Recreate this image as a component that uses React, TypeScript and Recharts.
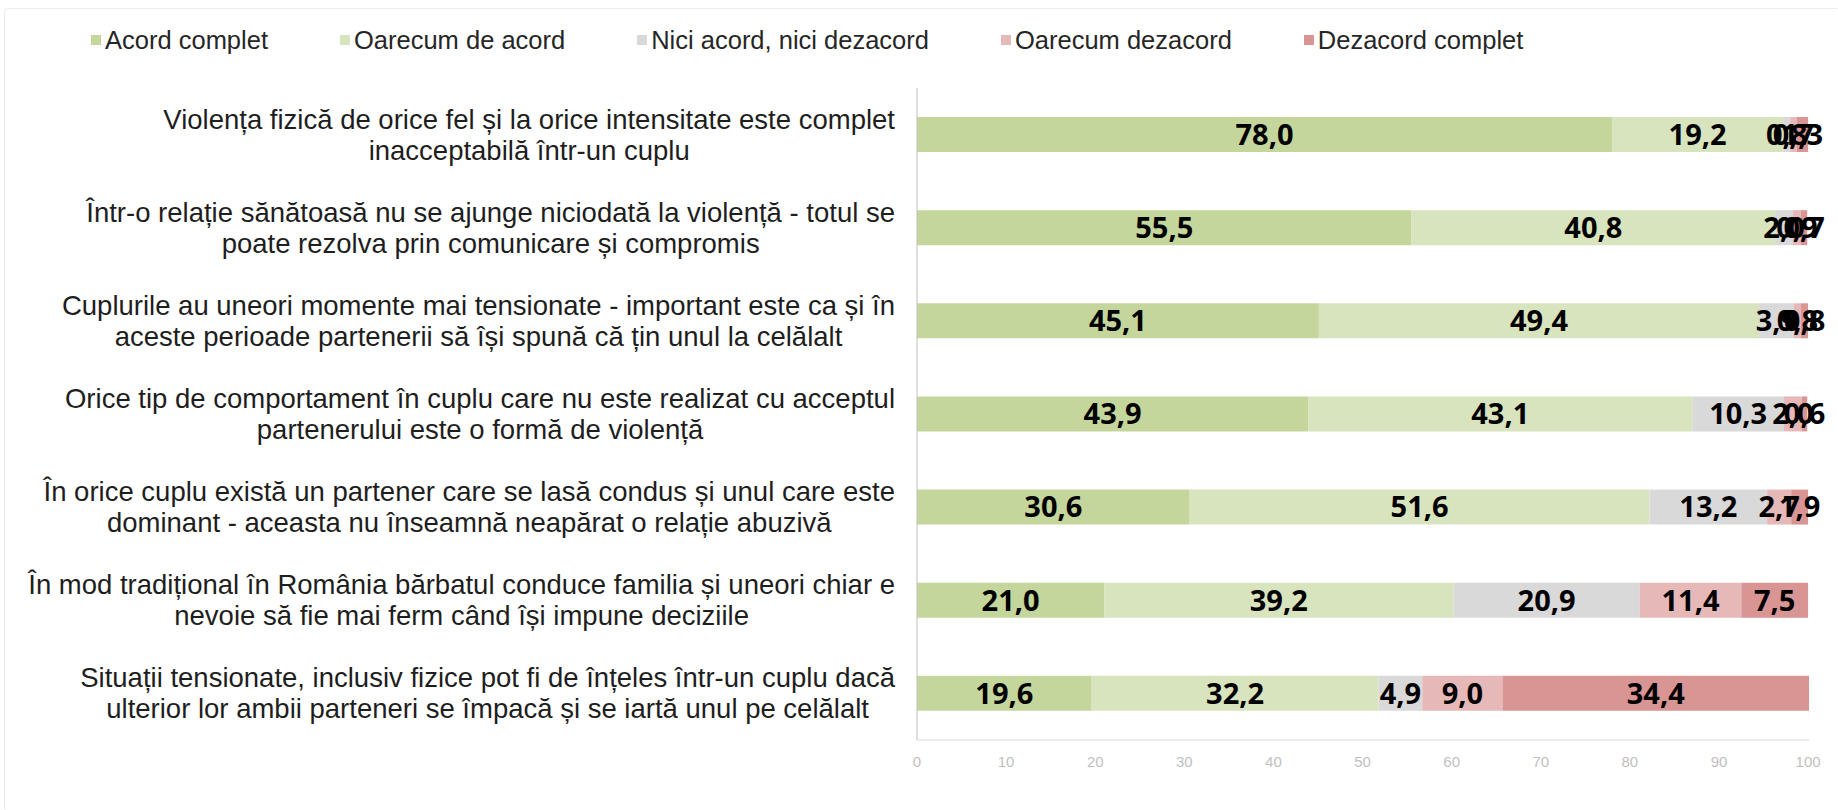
import React from "react";
import { Bar, BarChart, LabelList, XAxis, YAxis } from "recharts";

// statements, top to bottom (line breaks as in the original)
const statements = [
  "Violența fizică de orice fel și la orice intensitate este complet\ninacceptabilă într-un cuplu",
  "Într-o relație sănătoasă nu se ajunge niciodată la violență - totul se\npoate rezolva prin comunicare și compromis",
  "Cuplurile au uneori momente mai tensionate - important este ca și în\naceste perioade partenerii să își spună că țin unul la celălalt",
  "Orice tip de comportament în cuplu care nu este realizat cu acceptul\npartenerului este o formă de violență",
  "În orice cuplu există un partener care se lasă condus și unul care este\ndominant - aceasta nu înseamnă neapărat o relație abuzivă",
  "În mod tradițional în România bărbatul conduce familia și uneori chiar e\nnevoie să fie mai ferm când își impune deciziile",
  "Situații tensionate, inclusiv fizice pot fi de înțeles într-un cuplu dacă\nulterior lor ambii parteneri se împacă și se iartă unul pe celălalt",
];

const acordComplet = [78.0, 55.5, 45.1, 43.9, 30.6, 21.0, 19.6];
const oarecumAcord = [19.2, 40.8, 49.4, 43.1, 51.6, 39.2, 32.2];
const neutru = [0.8, 2.0, 3.9, 10.3, 13.2, 20.9, 4.9];
const oarecumDezacord = [0.7, 0.9, 0.8, 2.0, 2.7, 11.4, 9.0];
const dezacordComplet = [1.3, 0.7, 0.8, 0.6, 1.9, 7.5, 34.4];

const xTicks = [0, 10, 20, 30, 40, 50, 60, 70, 80, 90, 100];

const series = [
  { key: "acord", name: "Acord complet", color: "#c4d69c", values: acordComplet },
  { key: "oarecumAcord", name: "Oarecum de acord", color: "#d8e4bd", values: oarecumAcord },
  { key: "neutru", name: "Nici acord, nici dezacord", color: "#d9d9d9", values: neutru },
  { key: "oarecumDezacord", name: "Oarecum dezacord", color: "#e6b8b7", values: oarecumDezacord },
  { key: "dezacord", name: "Dezacord complet", color: "#d99594", values: dezacordComplet },
];

const data = statements.map((name, i) => {
  const row: Record<string, string | number> = { name };
  series.forEach((s) => (row[s.key] = s.values[i]));
  return row;
});

const FONT = "'Liberation Sans', Arial, sans-serif";
const LABEL_SIZE = 27.5;
const LINE_H = 31;

let ctx: CanvasRenderingContext2D | null = null;
function textWidth(s: string, font: string) {
  if (!ctx) ctx = document.createElement("canvas").getContext("2d");
  if (!ctx) return s.length * 12;
  ctx.font = font;
  return ctx.measureText(s).width;
}

// lines centred on each other, block right-aligned against the axis
function StatementTick({ x, y, payload }: any) {
  const lines = String(payload.value).split("\n");
  const w = Math.max(...lines.map((l) => textWidth(l, `${LABEL_SIZE}px ${FONT}`)));
  const cx = x - w / 2;
  return (
    <text textAnchor="middle" fontFamily={FONT} fontSize={LABEL_SIZE} fill="#1e1e1e">
      {lines.map((l, i) => (
        <tspan key={i} x={cx} y={y + (i - (lines.length - 1) / 2) * LINE_H} dominantBaseline="central">
          {l}
        </tspan>
      ))}
    </text>
  );
}

const fmt = (v: any) => Number(v).toFixed(1).replace(".", ",");

export default function App() {
  return (
    <div
      style={{
        position: "absolute",
        left: 0,
        top: 0,
        width: 1838,
        height: 810,
        background: "#fff",
        overflow: "hidden",
      }}
    >
      <div
        style={{
          position: "absolute",
          left: 4,
          top: 8,
          right: -2,
          bottom: -2,
          border: "1px solid #ececec",
          borderRadius: 4,
        }}
      />
      <div
        style={{
          position: "absolute",
          left: 91,
          top: 25,
          display: "flex",
          gap: 72,
          fontFamily: FONT,
          fontSize: 25.5,
          color: "#262626",
          lineHeight: "30px",
        }}
      >
        {series.map((s) => (
          <div key={s.key} style={{ display: "flex", alignItems: "center" }}>
            <span style={{ width: 10, height: 10, background: s.color, marginRight: 4 }} />
            {s.name}
          </div>
        ))}
      </div>
      <BarChart
        width={1838}
        height={810}
        data={data}
        layout="vertical"
        margin={{ top: 88, right: 29, bottom: 40, left: 0 }}
        barCategoryGap={0}
        style={{ position: "absolute", left: 0, top: 0 }}
      >
        <XAxis
          type="number"
          domain={[0, 100]}
          ticks={xTicks}
          tickLine={false}
          axisLine={{ stroke: "#d9d9d9" }}
          tick={{ fill: "#bfbfbf", fontSize: 15, fontFamily: FONT }}
          tickMargin={10}
          interval={0}
        />
        <YAxis
          type="category"
          dataKey="name"
          width={917}
          tickLine={false}
          tickSize={0}
          tickMargin={22}
          axisLine={{ stroke: "#bfbfbf" }}
          tick={<StatementTick />}
          interval={0}
        />
        {series.map((s) => (
          <Bar key={s.key} dataKey={s.key} name={s.name} stackId="a" fill={s.color} barSize={35} isAnimationActive={false}>
            <LabelList
              dataKey={s.key}
              position="center"
              formatter={fmt}
              fill="#000"
              fontFamily="'Open Sans', sans-serif"
              fontWeight={700}
              fontSize={29}
            />
          </Bar>
        ))}
      </BarChart>
    </div>
  );
}
